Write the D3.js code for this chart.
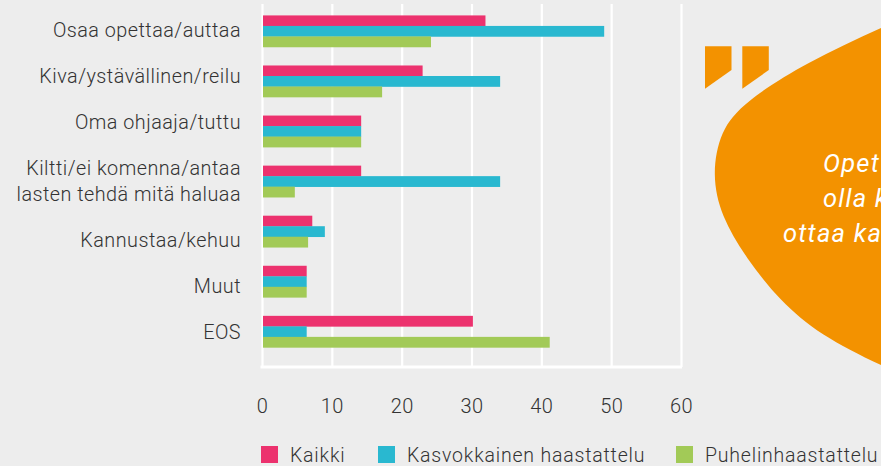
<!DOCTYPE html>
<html><head><meta charset="utf-8">
<script src="https://cdn.jsdelivr.net/npm/d3@7/dist/d3.min.js"></script>
<style>html,body{margin:0;padding:0;background:#ededed;overflow:hidden}svg{display:block}
text{font-family:Roboto,sans-serif;font-weight:300;fill:#333}</style></head><body>
<script>
const categories=["Osaa opettaa/auttaa","Kiva/ystävällinen/reilu","Oma ohjaaja/tuttu","Kiltti/ei komenna/antaa\nlasten tehdä mitä haluaa","Kannustaa/kehuu","Muut","EOS"];
const seriesNames=["Kaikki","Kasvokkainen haastattelu","Puhelinhaastattelu"];
const kaikki=[32,23,14.2,14.2,7.2,6.4,30.2];
const kasvokkain=[49,34.1,14.2,34.1,9,6.4,6.4];
const puhelin=[24.2,17.2,14.2,4.7,6.6,6.4,41.2];
const colors=["#ec326e","#29b8d0","#a2ca57"];
const ticks=[0,10,20,30,40,50,60];
const quoteLines=["Opet","olla k","ottaa ka"];
const W=881,H=466;
const svg=d3.select("body").append("svg").attr("width",W).attr("height",H);
const x=d3.scaleLinear().domain([0,60]).range([262,681]);
const y=d3.scaleBand().domain(categories).range([5.9,356.9]).paddingInner(0.37).paddingOuter(0.19);
const sub=d3.scaleBand().domain(seriesNames).range([0,y.bandwidth()]);
// grid
const axisG=svg.append("g").attr("transform","translate(0,367)");
axisG.call(d3.axisBottom(x).tickValues(ticks).tickSize(-363).tickPadding(25));
axisG.select(".domain").attr("stroke","#fff").attr("stroke-width",3).attr("d","M260.5,0H682");
axisG.selectAll("line").attr("stroke","#fff").attr("stroke-width",2.2);
axisG.selectAll("text").attr("font-size",20).attr("letter-spacing",0.4).attr("dy","1.05em").style("font-family","Roboto,sans-serif");
// bars
[kaikki,kasvokkain,puhelin].forEach((vals,i)=>{
 svg.append("g").selectAll("rect").data(vals).join("rect")
  .attr("x",x(0)+1).attr("y",(d,j)=>y(categories[j])+sub(seriesNames[i]))
  .attr("width",d=>x(d)-x(0)-1).attr("height",sub.bandwidth()+0.3).attr("fill",colors[i]);
});
// category labels: fixed line rhythm, independent of the bar groups
const lab=svg.append("g");
let by=37;
categories.forEach(c=>{
 c.split("\n").forEach((l,k)=>{
  if(k>0) by+=26;
  lab.append("text").text(l).attr("x",241).attr("y",by)
   .attr("text-anchor","end").attr("font-size",19.8).attr("letter-spacing",0.48);
 });
 by+=46;
});
// legend
const legX=[261,378,676],legT=[290,407,705];
seriesNames.forEach((s,i)=>{
 svg.append("rect").attr("x",legX[i]).attr("y",446).attr("width",17).attr("height",17).attr("fill",colors[i]);
 svg.append("text").text(s).attr("x",legT[i]).attr("y",462).attr("font-size",19.5).attr("letter-spacing",0.8);
});
// quote decoration
const blob=d3.line().curve(d3.curveBasis);
svg.append("path").attr("fill","#f39200").attr("d",blob([[960,-8],[881,28],[807,62],[744,102],[720,131],[712,175],[721,216],[746,258],[780,301],[820,335],[881,366],[960,400]])+"Z");
[0,37.3].forEach(dx=>svg.append("path").attr("fill","#f39200").attr("d",`M${705+dx},46.3H${731.5+dx}V70L${705+dx},88.7Z`));
const qx=[823,823,783],qy=[172,207,242];
quoteLines.forEach((t,i)=>svg.append("text").text(t).attr("x",qx[i]).attr("y",qy[i]).attr("font-size",25.5).attr("font-style","italic").attr("letter-spacing",1.2).style("font-weight",400).style("fill","#fff"));
</script></body></html>
